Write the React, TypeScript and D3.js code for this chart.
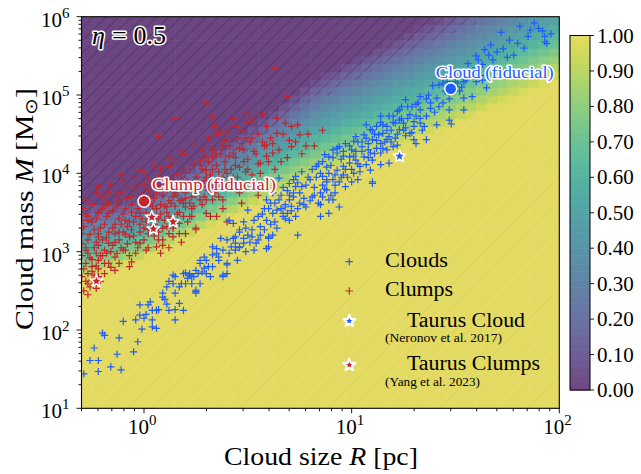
import React from "react";
import * as d3 from "d3";

const WIDTH = 641;
const HEIGHT = 474;
const plot = { left: 81.5, right: 559.3, top: 16.7, bottom: 408.3 };
const cbar = { left: 570, right: 590, top: 35.5, bottom: 390 };

// Model surface: the 0.5 level of the fraction (log10 M) along log10 R, and the width of the ramp (dex)
const midLevelLogR = [-0.31, 0, 0.51, 0.85, 1.46, 2.0];
const midLevelLogM = [3.1, 3.31, 4.08, 4.62, 5.32, 6.0];
const levelWidthDex = [1.0, 0.8, 1.05, 1.3, 1.5, 1.6];
const etaLabel = "0.5";

const colorbarTicks = [0, 0.1, 0.2, 0.3, 0.4, 0.5, 0.6, 0.7, 0.8, 0.9, 1.0];
const xTickExps = [0, 1, 2];
const yTickExps = [1, 2, 3, 4, 5, 6];

// Observed clouds, [log10 R/pc, log10 M/Msun]
const cloudsLog: [number, number][] = [
  [-0.29,1.44],[-0.24,1.77],[-0.26,1.61],[-0.22,1.61],[-0.22,1.47],[-0.20,1.96],[-0.19,1.93],[-0.16,1.53],[-0.12,1.90],[-0.13,1.69],
  [-0.11,1.49],[-0.10,2.11],[-0.05,1.72],[-0.03,1.85],[-0.02,2.19],[-0.04,2.13],[-0.02,2.32],[-0.01,2.01],[0.00,2.15],[0.01,2.20],
  [0.02,2.32],[0.03,2.36],[0.04,2.25],[0.04,2.13],[0.04,2.04],[0.06,2.25],[0.06,2.02],[0.07,2.26],[0.09,2.47],[0.10,2.39],
  [0.11,2.33],[0.12,2.62],[0.12,2.25],[0.14,2.70],[0.15,2.26],[0.15,2.13],[0.17,2.34],[0.18,2.59],[0.19,2.25],[0.20,2.73],
  [0.21,2.66],[0.22,2.70],[0.23,2.59],[0.24,2.68],[0.25,2.47],[0.25,2.49],[0.26,2.72],[0.27,2.89],[0.28,2.74],[0.29,2.93],
  [0.29,2.79],[0.31,2.81],[0.32,2.68],[0.33,2.96],[0.35,3.04],[0.36,2.93],[0.37,3.17],[0.38,2.70],[0.40,2.85],[0.40,2.72],
  [0.41,2.98],[0.43,3.17],[0.44,3.11],[0.45,2.89],[0.46,3.06],[0.48,3.17],[0.49,3.00],[0.50,3.21],[0.53,3.02],[0.54,3.11],
  [0.56,3.21],[0.59,3.04],[0.60,3.19],[0.62,3.21],[0.74,3.21],
  [0.65,3.94],[0.70,3.87],[0.73,3.96],[0.62,3.75],[0.65,3.66],[0.68,3.60],[0.72,3.70],[0.73,3.83],[0.59,3.66],[0.64,3.53],
  [0.67,3.45],[0.69,3.49],[0.59,3.40],[0.56,3.32],[0.52,3.28],[0.49,3.30],[0.46,3.25],[0.44,3.19],[0.48,3.11],[0.52,3.19],
  [0.56,3.21],[0.60,3.17],[0.60,3.06],[0.40,3.15],[0.42,3.06],[0.44,3.02],[0.38,3.02],[0.33,3.06],[0.35,2.98],[0.36,2.89],
  [0.30,2.89],[0.27,2.85],[0.25,2.76],[0.22,2.72],[0.19,2.72],[0.15,2.68],[0.14,2.59],[0.17,2.55],[0.20,2.59],[0.23,2.68],
  [0.27,2.59],[0.30,2.72],[0.33,2.81],[0.38,2.68],[0.40,2.83],[0.09,2.42],[0.15,2.47],[0.25,2.51],[0.11,2.55],
  [0.87,4.24],[0.83,4.09],[0.85,4.00],[0.88,3.92],[0.80,3.92],[0.76,3.83],[0.72,3.75],[0.70,3.66],[0.68,3.57],[0.75,3.62],
  [0.67,3.49],[0.62,3.49],[0.59,3.40],[0.50,3.53],[0.46,3.28],[0.43,3.36],[0.41,3.40],[0.89,3.66],[0.85,3.75],[0.81,3.70],
  [0.78,3.57],[0.73,3.45],[0.70,3.40],[0.89,3.49],[0.85,3.45],
  [1.72,5.80],[1.81,5.88],[1.86,5.83],[1.93,5.75],[1.93,5.68],[1.94,5.66],[1.80,5.66],[1.67,5.64],[1.73,5.59],[1.78,5.51],
  [1.60,5.50],[1.66,5.51],[1.61,5.45],[1.68,5.45],[1.63,5.39],[1.65,5.09],[1.55,5.19],[1.60,5.17],[1.63,5.19],[1.48,5.13],
  [1.39,5.12],[1.42,5.13],[1.46,5.17],[1.50,5.17],[1.51,5.15],[1.54,5.17],[1.54,4.96],[1.54,4.81],[1.47,4.81],[1.47,4.68],
  [1.48,4.63],[1.41,4.62],[1.41,4.96],[1.36,4.95],[1.33,4.98],[1.26,4.94],[1.27,4.85],[1.32,4.90],[1.38,4.83],[1.33,4.81],
  [1.23,4.81],[1.22,4.79],[1.20,4.73],[1.23,4.68],[1.25,4.64],[1.28,4.75],[1.31,4.73],[1.36,4.73],[1.33,4.64],[1.30,4.60],
  [1.26,4.58],[1.23,4.56],[1.21,4.64],[1.18,4.73],[1.17,4.60],[1.14,4.73],[1.12,4.60],[1.07,4.62],[1.09,4.56],[1.06,4.49],
  [1.02,4.47],[1.01,4.41],[0.97,4.38],[0.94,4.34],[0.91,4.30],[0.89,4.21],[0.93,4.26],[0.96,4.28],[0.99,4.21],[1.02,4.28],
  [1.05,4.34],[1.08,4.38],[1.10,4.43],[1.13,4.49],[1.15,4.51],[1.18,4.47],[1.17,4.43],[1.14,4.38],[1.09,4.26],[1.06,4.21],
  [1.02,4.17],[0.99,4.13],[0.96,4.09],[0.93,4.04],[0.89,4.00],[0.86,3.96],[0.88,3.89],[0.91,3.92],[0.94,3.89],[0.96,3.98],
  [1.01,4.00],[1.04,4.09],[1.07,4.11],[1.10,4.17],[1.14,4.26],[1.17,4.30],[1.20,4.34],[1.22,4.36],[1.28,4.51],[1.30,4.43],
  [1.23,4.24],[1.18,4.13],[1.14,4.11],[1.09,4.04],[1.03,3.92],[1.00,3.89],[0.97,3.83],[0.92,3.75],[0.88,3.79],[0.86,3.70],
  [0.85,3.60],[0.91,3.66],[0.94,3.57],[1.10,3.89],[1.10,3.87],[1.31,4.38],[1.36,4.43],
  [0.55,3.45],[0.58,3.55],[0.61,3.62],[0.63,3.38],[0.66,3.72],[0.69,3.78],[0.71,3.52],[0.74,3.88],[0.77,3.68],[0.79,3.95],
  [0.82,3.82],[0.84,4.12],[0.86,3.85],[0.90,4.10],[0.92,3.85],[0.95,4.18],[0.98,3.95],[1.00,4.30],[1.03,4.12],[1.05,4.40],
  [1.08,4.20],[1.11,4.50],[1.12,4.32],[1.15,4.62],[1.16,4.40],[1.19,4.55],[1.21,4.45],[1.24,4.70],[1.26,4.48],[1.29,4.85],
  [1.30,4.66],[1.34,4.55],[1.37,5.00],[1.40,4.78],[1.44,4.90],[1.45,5.05],[1.52,5.05],[1.57,5.30],[1.58,4.98],[1.62,5.25],
  [1.69,5.30],[1.75,5.48],[1.83,5.60],[1.90,5.85],[1.96,5.78],
  [0.46,3.05],[0.48,3.38],[0.51,3.12],[0.53,3.40],[0.55,3.15],[0.57,3.48],[0.58,3.28],[0.60,3.55],[0.61,3.35],[0.63,3.62],
  [0.64,3.30],[0.66,3.55],[0.67,3.82],[0.68,3.42],[0.70,3.72],[0.71,3.58],[0.72,3.92],[0.74,3.55],[0.75,3.75],[0.76,4.02],
  [0.77,3.60],[0.78,3.85],[0.80,3.65],[0.81,4.05],[0.82,3.72],[0.83,3.95],[0.84,3.62],[0.86,4.15],[0.87,3.80],[0.88,4.08],
  [0.90,3.72],[0.91,4.20],[0.92,3.98],[0.93,4.32],[0.95,3.95],[0.96,4.22],[0.97,4.05],[0.99,4.35],[1.00,4.05],[1.01,4.22],
  [1.03,4.40],[1.04,4.02],[1.05,4.28],[1.07,4.45],[1.08,4.30],[1.10,4.55],[1.11,4.25],[1.12,4.42],[1.14,4.65],[1.15,4.32],
  [1.17,4.55],[1.19,4.40],[1.20,4.65],[1.22,4.50],[1.24,4.85],[1.25,4.55],[1.27,4.70],[1.29,4.52],[1.31,4.88],[1.33,4.70],
  [1.35,4.60],[1.38,4.90],[1.42,4.85],[1.44,5.15],[1.47,4.95],[1.50,5.25],[1.53,5.10],[1.56,5.40],[1.60,5.35],[1.64,5.58],
  [1.70,5.55],[1.76,5.70],[1.85,5.75],[1.88,5.92],[1.92,5.82],
];

// Observed clumps, [log10 R/pc, log10 M/Msun]
const clumpsLog: [number, number][] = [
  [0.63,5.34],[0.69,4.98],[0.15,4.70],[0.33,4.72],[0.49,4.77],[0.52,4.69],[0.07,4.47],[0.34,4.60],[0.44,4.60],[0.59,4.60],
  [0.68,4.64],[0.75,4.49],[0.37,4.53],[0.40,4.53],[0.64,4.51],[0.52,4.45],[0.71,4.34],[0.47,4.38],[0.59,4.36],[0.19,4.24],
  [0.27,4.17],[0.33,4.21],[0.43,4.26],[0.62,4.26],[0.56,4.13],[-0.11,3.98],[-0.02,4.04],[0.12,4.09],[0.20,4.00],[0.30,4.04],
  [0.40,4.00],[0.49,4.02],[-0.22,3.83],[-0.28,3.66],[-0.23,3.75],
  [-0.17,3.75],[-0.12,3.66],[-0.06,3.70],[0.02,3.79],[0.07,3.83],[0.14,3.83],[0.20,3.83],[0.25,3.89],[0.30,3.83],[0.36,3.92],
  [0.43,3.89],[0.46,3.75],[0.33,3.66],[0.27,3.66],[0.20,3.57],[0.11,3.57],[0.06,3.45],[-0.02,3.49],[-0.09,3.40],[-0.17,3.49],
  [-0.22,3.49],[-0.27,3.40],[-0.30,3.28],[-0.22,3.23],[-0.14,3.23],[-0.06,3.28],[0.02,3.28],[0.11,3.32],[0.17,3.36],[0.23,3.45],
  [0.30,3.49],[0.35,3.45],[0.20,3.23],[0.14,3.19],[0.25,3.28],[0.14,3.70],[0.18,3.66],
  [-0.30,3.23],[-0.27,3.15],[-0.22,3.19],[-0.17,3.11],[-0.12,3.15],[-0.07,3.19],[-0.02,3.11],[0.02,3.23],[0.07,3.15],[0.12,3.23],
  [-0.28,3.02],[-0.23,2.98],[-0.19,3.02],[-0.14,2.93],[-0.09,3.02],[-0.04,2.98],[0.01,3.02],[0.06,3.06],[-0.28,2.85],[-0.25,2.81],
  [-0.22,2.89],[-0.17,2.85],[-0.12,2.85],[-0.07,2.81],[-0.27,2.72],[-0.22,2.68],[-0.30,2.68],[-0.25,2.64],[-0.19,2.72],[-0.23,2.53],
  [-0.27,2.59],[0.09,3.08],[-0.06,2.87],[-0.14,2.76],
  [0.38,3.66],[0.40,3.38],[0.30,3.66],[0.33,3.79],[0.25,3.87],[0.17,3.23],[0.22,3.45],[0.09,3.15],
  [-0.28,3.05],[-0.26,2.92],[-0.24,3.28],[-0.22,3.08],[-0.20,2.95],[-0.19,3.35],[-0.18,3.18],[-0.16,3.00],[-0.15,3.30],[-0.14,3.12],
  [-0.12,3.42],[-0.11,3.05],[-0.10,3.25],[-0.09,3.55],[-0.08,3.10],[-0.07,3.38],[-0.06,3.60],[-0.05,3.20],[-0.04,3.45],[-0.03,3.05],
  [-0.02,3.35],[-0.01,3.60],[0.00,3.15],[0.01,3.50],[0.02,3.70],[0.03,3.30],[0.04,3.58],[0.05,3.20],[0.06,3.75],[0.07,3.42],
  [0.08,3.60],[0.09,3.30],[0.10,3.85],[0.11,3.50],[0.12,3.65],[0.13,3.40],[0.14,3.92],[0.15,3.58],[0.16,3.72],[0.17,3.50],
  [0.18,3.95],[0.19,3.62],[0.20,3.75],[0.21,3.38],[0.22,4.05],[0.23,3.70],[0.24,3.58],[0.25,3.95],[0.26,3.82],[0.27,4.10],
  [0.28,3.60],[0.29,3.90],[0.30,4.20],[0.31,3.78],[0.32,3.98],[0.33,4.30],[0.34,3.85],[0.35,4.10],[0.36,3.70],[0.37,4.25],
  [0.38,3.95],[0.39,4.15],[0.40,3.82],[0.41,4.35],[0.42,4.05],[0.43,3.95],[0.44,4.20],[0.45,4.45],[0.46,4.08],[0.47,3.88],
  [0.48,4.30],[0.50,4.18],[0.51,4.40],[0.52,3.98],[0.54,4.25],[0.55,4.50],[0.56,4.00],[0.58,4.35],[0.60,4.15],[0.61,4.45],
  [0.63,4.05],[0.65,4.30],[0.67,4.50],[0.69,4.20],[0.71,4.60],[0.73,4.40],[0.76,4.25],[0.79,4.50],[0.82,4.35],[0.62,3.80],
  [0.55,3.72],[0.47,3.62],[0.38,3.55],[-0.25,2.75],[-0.21,2.62],[-0.29,2.50],[-0.27,2.45],[-0.23,2.82],[-0.30,2.95],[-0.30,3.40],
  [-0.29,3.55],[-0.27,3.45],[-0.25,3.60],[-0.22,3.50],[-0.20,3.70],[-0.18,3.60],[-0.16,3.85],[-0.13,3.72],[-0.10,3.90],[-0.08,3.82],
  [-0.05,3.95],[-0.03,3.85],[0.00,4.00],[0.02,3.92],[0.05,4.10],[0.08,4.05],[0.12,4.20],[0.15,4.15],[0.18,4.30],[0.20,4.25],
  [0.24,4.38],[0.28,4.30],[0.31,4.45],[0.35,4.50],[0.39,4.42],[0.43,4.70],[0.47,4.55],[0.50,4.65],[0.57,4.75],[0.64,4.70],
  [0.30,4.90],[0.12,3.05],[0.18,3.12],[0.25,3.30],[0.32,3.45],[0.08,2.98],
  [-0.30,3.10],[-0.29,2.78],[-0.29,3.32],[-0.28,2.62],[-0.28,3.48],[-0.27,2.98],[-0.26,3.22],[-0.26,2.55],[-0.25,3.38],[-0.25,2.90],
  [-0.24,3.05],[-0.24,2.70],[-0.23,3.42],[-0.23,3.12],[-0.22,2.78],[-0.21,3.30],[-0.21,2.95],[-0.20,3.55],[-0.20,3.15],[-0.19,2.85],
  [-0.18,3.45],[-0.18,2.98],[-0.17,3.62],[-0.17,3.25],[-0.16,2.80],[-0.15,3.52],[-0.15,3.08],[-0.14,3.35],[-0.13,2.98],[-0.13,3.58],
  [-0.12,3.25],[-0.11,3.75],[-0.11,3.35],[-0.10,3.02],[-0.10,3.48],[-0.09,3.22],[-0.08,3.68],[-0.08,3.32],[-0.07,2.95],[-0.06,3.50],
  [-0.05,3.38],[-0.05,3.80],[-0.04,3.12],[-0.03,3.55],[-0.02,3.25],[-0.01,3.72],[-0.01,3.42],[0.00,3.30],[0.00,3.85],
  [0.01,3.38],[0.02,3.05],[0.03,3.62],[0.03,3.45],[0.04,3.85],[0.05,3.35],[0.05,3.68],[0.06,3.55],[0.07,3.25],[0.07,3.95],
  [0.08,3.48],[0.09,3.72],[0.10,3.40],[0.10,3.58],[0.11,3.78],[0.12,3.45],[0.13,3.88],[0.13,3.62],[0.14,3.30],[0.15,3.75],
  [0.16,3.48],[0.16,3.98],[0.17,3.65],[0.18,3.80],[0.19,3.45],[0.19,4.05],[0.20,3.68],[0.21,3.90],[0.22,3.62],[0.22,3.82],
  [0.23,3.55],[0.24,4.12],[0.25,3.72],[0.26,3.95],[0.27,3.80],[0.28,4.05],[0.29,3.70],[0.30,3.95],[0.31,4.15],[0.32,3.88],
  [0.33,4.05],[0.34,3.75],[0.35,4.25],[0.36,4.02],[0.37,3.85],[0.38,4.35],[0.39,4.05],[0.41,4.22],[0.42,3.90],[0.44,4.10],
  [0.45,3.95],[0.46,4.32],[0.48,4.15],[0.49,4.45],[0.50,4.05],[0.53,4.28],[0.55,4.12],[0.57,4.40],[0.59,4.22],[0.62,4.38],
  [0.66,4.15],[0.70,4.42],[0.74,4.62],[0.78,4.35],[0.86,4.55],
];

// Taurus references and fiducial cases (R in pc, M in Msun)
const taurusCloud = { R: 17, M: 16500 };
const taurusClumpR = [1.09, 1.11, 1.38, 0.59];
const taurusClumpM = [2750, 1950, 2400, 420];
const clumpFiducial = { R: 1.0, M: 4400, label: "Clump (fiducial)" };
const cloudFiducial = { R: 30, M: 120000, label: "Cloud (fiducial)" };

const BLUE = "#1f5cff";
const RED = "#c3252c";
const SERIF = "Liberation Serif, Times New Roman, Times, serif";

const x = d3.scaleLog().domain([0.5, 100]).range([plot.left, plot.right]);
const y = d3.scaleLog().domain([10, 1e6]).range([plot.bottom, plot.top]);
const midLevel = d3.scaleLinear().domain(midLevelLogR).range(midLevelLogM);
const rampWidth = d3.scaleLinear().domain(midLevelLogR).range(levelWidthDex).clamp(true);

const tint = d3.rgb(180, 198, 215);
function fieldColor(t: number) {
  const c = d3.rgb(d3.interpolateViridis(t));
  const a = 0.65;
  return d3.rgb(a * c.r + (1 - a) * tint.r, a * c.g + (1 - a) * tint.g, a * c.b + (1 - a) * tint.b).formatHex();
}
function fieldValue(lr: number, lm: number) {
  const v = 0.5 - (lm - midLevel(lr)) / rampWidth(lr);
  return Math.max(0, Math.min(1, v));
}

function plusPath(pts: [number, number][], s: number) {
  return pts
    .map(([lr, lm]) => {
      const cx = x(10 ** lr), cy = y(10 ** lm);
      return `M${cx - s},${cy}H${cx + s}M${cx},${cy - s}V${cy + s}`;
    })
    .join("");
}
function starPath(cx: number, cy: number, ro: number, ri: number) {
  const p: string[] = [];
  for (let k = 0; k < 10; k++) {
    const r = k % 2 === 0 ? ro : ri;
    const a = -Math.PI / 2 + (k * Math.PI) / 5;
    p.push(`${cx + r * Math.cos(a)},${cy + r * Math.sin(a)}`);
  }
  return "M" + p.join("L") + "Z";
}

export default function App() {
  // gridded field
  const lrEdges = d3.range(-0.35, 2.0001, 0.05);
  const lmEdges = d3.range(1, 6.0001, 0.1);
  const cells: { x0: number; y0: number; w: number; h: number; v: number }[] = [];
  for (let i = 0; i < lrEdges.length - 1; i++) {
    for (let j = 0; j < lmEdges.length - 1; j++) {
      const lr = (lrEdges[i] + lrEdges[i + 1]) / 2;
      const lm = (lmEdges[j] + lmEdges[j + 1]) / 2;
      const x0 = x(10 ** lrEdges[i]);
      const x1 = x(10 ** lrEdges[i + 1]);
      const y0 = y(10 ** lmEdges[j + 1]);
      const y1 = y(10 ** lmEdges[j]);
      cells.push({ x0, y0, w: x1 - x0, h: y1 - y0, v: fieldValue(lr, lm) });
    }
  }

  const hatch: number[] = d3.range(plot.left + plot.top - 500, plot.right + plot.bottom + 20, 12.5);

  const xMinor: number[] = [];
  [0.1, 1, 10].forEach((d) => [2, 3, 4, 5, 6, 7, 8, 9].forEach((m) => {
    const v = d * m;
    if (v >= 0.5 && v <= 100) xMinor.push(v);
  }));
  const yMinor: number[] = [];
  [10, 100, 1e3, 1e4, 1e5].forEach((d) => [2, 3, 4, 5, 6, 7, 8, 9].forEach((m) => yMinor.push(d * m)));

  const cb = d3.scaleLinear().domain([0, 1]).range([cbar.bottom, cbar.top]);
  const cbSteps = d3.range(0, 1, 0.005);

  return (
    <svg width={WIDTH} height={HEIGHT} style={{ display: "block", position: "absolute", left: 0, top: 0, fontFamily: SERIF }}>
      <defs>
        <clipPath id="plotArea">
          <rect x={plot.left} y={plot.top} width={plot.right - plot.left} height={plot.bottom - plot.top} />
        </clipPath>
        <clipPath id="lowField">
          {cells.filter((c) => c.v < 0.2).map((c, i) => (
            <rect key={i} x={c.x0} y={c.y0} width={c.w + 0.5} height={c.h + 0.5} />
          ))}
        </clipPath>
      </defs>
      <rect width={WIDTH} height={HEIGHT} fill="white" />

      <g clipPath="url(#plotArea)">
        {cells.map((c, i) => (
          <rect key={i} x={c.x0} y={c.y0} width={c.w + 0.6} height={c.h + 0.6} fill={fieldColor(c.v)} />
        ))}
        <g stroke="#000" strokeWidth={0.6} strokeOpacity={0.07}>
          {hatch.map((c, i) => (
            <line key={i} x1={c - plot.bottom} y1={plot.bottom} x2={c - plot.top} y2={plot.top} />
          ))}
        </g>
        <g clipPath="url(#lowField)" stroke="#2a1a35" strokeWidth={0.7} strokeOpacity={0.45}>
          {hatch.map((c, i) => (
            <line key={i} x1={c - plot.bottom} y1={plot.bottom} x2={c - plot.top} y2={plot.top} />
          ))}
        </g>

        <path d={plusPath(clumpsLog, 3.6)} stroke={RED} strokeWidth={1.2} fill="none" />
        <path d={plusPath(cloudsLog, 3.6)} stroke={BLUE} strokeWidth={1.2} fill="none" />

        {taurusClumpR.map((r, i) => (
          <path key={i} d={starPath(x(r), y(taurusClumpM[i]), 6.5, 2.8)} fill={RED} stroke="white" strokeWidth={1.5} strokeLinejoin="round" />
        ))}
        <path d={starPath(x(taurusCloud.R), y(taurusCloud.M), 6.5, 2.8)} fill={BLUE} stroke="white" strokeWidth={1.5} strokeLinejoin="round" />

        <circle cx={x(clumpFiducial.R)} cy={y(clumpFiducial.M)} r={6} fill={RED} stroke="white" strokeWidth={1.5} />
        <circle cx={x(cloudFiducial.R)} cy={y(cloudFiducial.M)} r={6} fill={BLUE} stroke="white" strokeWidth={1.5} />
      </g>

      <text x={x(clumpFiducial.R) + 8} y={y(clumpFiducial.M) - 11} fontSize={17} fill={RED} stroke="white" strokeWidth={3}
        paintOrder="stroke" strokeLinejoin="round" textLength={124} lengthAdjust="spacingAndGlyphs">{clumpFiducial.label}</text>
      <text x={x(cloudFiducial.R) - 15} y={y(cloudFiducial.M) - 11} fontSize={17} fill={BLUE} stroke="white" strokeWidth={3}
        paintOrder="stroke" strokeLinejoin="round" textLength={118} lengthAdjust="spacingAndGlyphs">{cloudFiducial.label}</text>

      <text x={92} y={44} fontSize={26} fill="#000" stroke="white" strokeWidth={3} paintOrder="stroke" strokeLinejoin="round">
        <tspan fontStyle="italic">η</tspan>
        <tspan dx={7}>=</tspan>
        <tspan dx={7}>{etaLabel}</tspan>
      </text>

      {/* legend */}
      <g>
        <path d={`M${345.5},261.7H${353}M349.3,258V265.4`} stroke={BLUE} strokeWidth={1.2} />
        <path d={`M${345.5},291H${353}M349.3,287.3V294.7`} stroke={RED} strokeWidth={1.2} />
        <path d={starPath(349.3, 321, 6.2, 2.7)} fill={BLUE} stroke="white" strokeWidth={2.2} strokeLinejoin="round" />
        <path d={starPath(349.3, 365, 6.2, 2.7)} fill={RED} stroke="white" strokeWidth={2.2} strokeLinejoin="round" />
        <text x={385} y={267} fontSize={20} textLength={63} lengthAdjust="spacingAndGlyphs">Clouds</text>
        <text x={385} y={296} fontSize={20} textLength={68} lengthAdjust="spacingAndGlyphs">Clumps</text>
        <text x={407} y={327} fontSize={20} textLength={118} lengthAdjust="spacingAndGlyphs">Taurus Cloud</text>
        <text x={385} y={342} fontSize={11.5} textLength={117} lengthAdjust="spacingAndGlyphs">(Neronov et al. 2017)</text>
        <text x={407} y={370} fontSize={20} textLength={133} lengthAdjust="spacingAndGlyphs">Taurus Clumps</text>
        <text x={385} y={386} fontSize={11.5} textLength={95} lengthAdjust="spacingAndGlyphs">(Yang et al. 2023)</text>
      </g>

      {/* axes frame */}
      <rect x={plot.left} y={plot.top} width={plot.right - plot.left} height={plot.bottom - plot.top} fill="none" stroke="#000" strokeWidth={1.1} />

      {/* ticks */}
      <g stroke="#000" strokeWidth={0.9}>
        {xTickExps.map((e) => (
          <line key={e} x1={x(10 ** e)} x2={x(10 ** e)} y1={plot.bottom} y2={plot.bottom + 5} />
        ))}
        {xMinor.map((v, i) => (
          <line key={i} x1={x(v)} x2={x(v)} y1={plot.bottom} y2={plot.bottom + 3} />
        ))}
        {yTickExps.map((e) => (
          <line key={e} x1={plot.left} x2={plot.left - 5} y1={y(10 ** e)} y2={y(10 ** e)} />
        ))}
        {yMinor.map((v, i) => (
          <line key={i} x1={plot.left} x2={plot.left - 3} y1={y(v)} y2={y(v)} />
        ))}
      </g>
      {xTickExps.map((e) => (
        <text key={e} x={x(10 ** e) - 16} y={434} fontSize={21}>
          10<tspan dy={-9} fontSize={15}>{e}</tspan>
        </text>
      ))}
      {yTickExps.map((e) => (
        <text key={e} x={62} y={y(10 ** e) + 10} fontSize={21} textAnchor="end">
          10
          <tspan x={62} dy={-9} fontSize={15} textAnchor="start">{e}</tspan>
        </text>
      ))}

      <text x={321} y={465} fontSize={25} textAnchor="middle" textLength={194} lengthAdjust="spacingAndGlyphs">
        Cloud size <tspan fontStyle="italic">R</tspan> [pc]
      </text>
      <text transform={`translate(33,209) rotate(-90)`} fontSize={25} textAnchor="middle" textLength={242} lengthAdjust="spacingAndGlyphs">
        Cloud mass <tspan fontStyle="italic">M</tspan> [M<tspan fontSize={17} dy={4}>⊙</tspan><tspan dy={-4}>]</tspan>
      </text>

      {/* colorbar */}
      {cbSteps.map((t, i) => (
        <rect key={i} x={cbar.left} y={cb(t + 0.005)} width={cbar.right - cbar.left} height={cb(t) - cb(t + 0.005) + 0.6} fill={fieldColor(t + 0.0025)} />
      ))}
      <rect x={cbar.left} y={cbar.top} width={cbar.right - cbar.left} height={cbar.bottom - cbar.top} fill="none" stroke="#000" strokeWidth={1} />
      {colorbarTicks.map((t) => (
        <g key={t}>
          <line x1={cbar.right} x2={cbar.right + 4} y1={cb(t)} y2={cb(t)} stroke="#000" strokeWidth={0.9} />
          <text x={597} y={cb(t) + 7} fontSize={21}>{t.toFixed(2)}</text>
        </g>
      ))}
    </svg>
  );
}
